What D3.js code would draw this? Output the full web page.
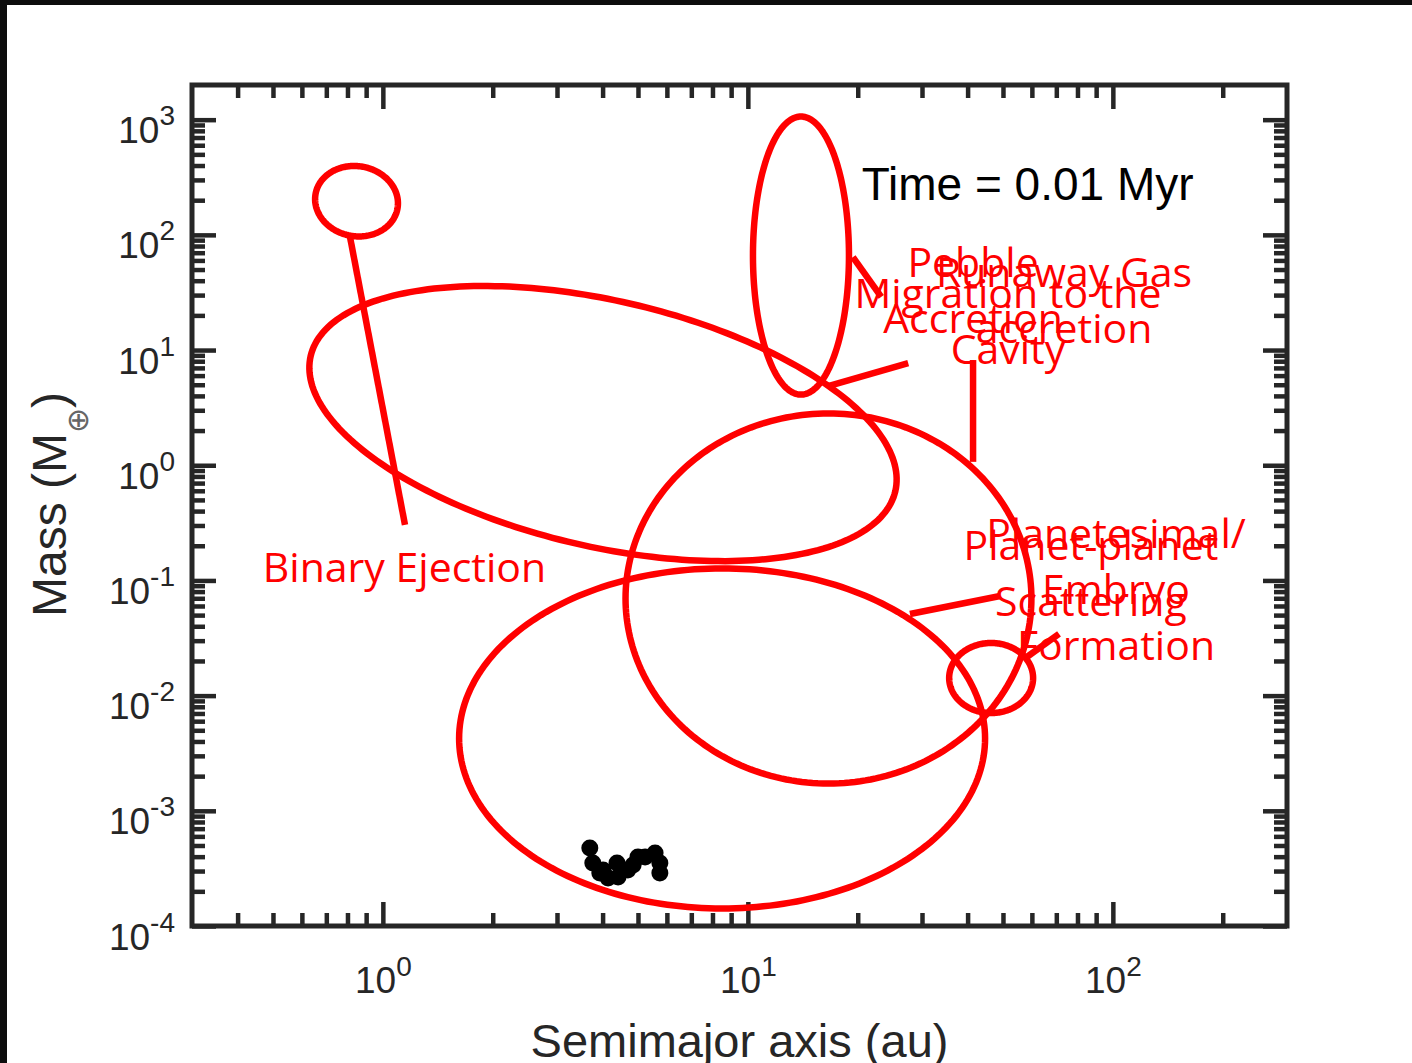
<!DOCTYPE html>
<html>
<head>
<meta charset="utf-8">
<script src="https://cdn.jsdelivr.net/npm/d3@7"></script>
<style>
  html, body { margin: 0; padding: 0; background: #fff; }
  svg { display: block; }
</style>
</head>
<body>
<div id="chart"></div>
<script>
// ---- data -------------------------------------------------------------
const xTickValues = [1, 10, 100];
const xTickExponents = ["0", "1", "2"];
const yTickValues = [1e-4, 1e-3, 1e-2, 1e-1, 1, 10, 100, 1000];
const yTickExponents = ["-4", "-3", "-2", "-1", "0", "1", "2", "3"];

// formation regions: centre (au, Earth masses), half extents in dex, tilt (deg)
const regionNames = ["binary", "embryoBelt", "pebble", "scatter", "planetesimal", "outer"];
const regionCenterA = [0.847, 4.01, 13.98, 16.63, 8.50, 46.4];
const regionCenterM = [196, 2.30, 66.1, 0.0697, 4.25e-3, 0.01422];
const regionHalfA = [0.114, 0.822, 0.1315, 0.556, 0.7205, 0.115];
const regionHalfM = [0.304, 1.068, 1.207, 1.606, 1.476, 0.304];
const regionTilt = [10, 13, 0, 0, 0, 0];

// leader lines: from (a1, m1) to (a2, m2)
const leaderA1 = [0.813, 19.4, 16.6, 41.4, 27.8, 57.1];
const leaderM1 = [95.7, 64.1, 4.87, 8.19, 0.0511, 0.0208];
const leaderA2 = [1.15, 23.2, 27.5, 41.4, 49.1, 71.2];
const leaderM2 = [0.303, 28.9, 7.71, 1.07, 0.0733, 0.0343];

// labels: lines, anchor (au, Earth masses) of first baseline, centred
const labelLines = [
  ["Binary Ejection"],
  ["Pebble", "Accretion"],
  ["Runaway Gas", "accretion"],
  ["Migration to the", "Cavity"],
  ["Planetesimal/", "Embryo", "Formation"],
  ["Planet-planet", "Scattering"]
];
const labelA = [1.146, 41.4, 73.5, 51.6, 102, 87.1];
const labelM = [0.0968, 43.0, 35.2, 23.2, 0.191, 0.150];

// simulated bodies at this snapshot
const bodyA = [3.69, 3.76, 3.93, 4.14, 4.41, 4.69, 5.00, 5.23, 5.57, 5.74, 5.74, 4.85, 4.38, 4.01];
const bodyM = [4.75e-4, 3.52e-4, 2.88e-4, 2.61e-4, 2.66e-4, 3.06e-4, 3.97e-4, 3.97e-4, 4.31e-4, 3.52e-4, 2.88e-4, 3.38e-4, 3.52e-4, 3.06e-4];

const timeLabel = "Time = 0.01 Myr";
const timeA = 20.5, timeM = 200;

// ---- layout -----------------------------------------------------------
const W = 1412, H = 1063;
const plotLeft = 192, plotRight = 1287, plotTop = 85, plotBottom = 926;
const axisColor = "#262626";
const red = "#ff0000";

const svg = d3.select("#chart").append("svg")
  .attr("width", W).attr("height", H);

// frame strips along the top and left
svg.append("rect").attr("x", 0).attr("y", 0).attr("width", W).attr("height", 5).attr("fill", "#0d0d0d");
svg.append("rect").attr("x", 0).attr("y", 0).attr("width", 7).attr("height", H).attr("fill", "#0d0d0d");

const x = d3.scaleLog().domain([0.3, 300]).range([plotLeft, plotRight]);
const y = d3.scaleLog().domain([1e-4, 2000]).range([plotBottom, plotTop]);

// minor tick values
const xMinor = [];
for (let d = -1; d <= 2; d++) for (let m = 2; m <= 9; m++) {
  const v = m * Math.pow(10, d);
  if (v > 0.3 + 1e-9 && v < 300 - 1e-9) xMinor.push(v);
}
const yMinor = [];
for (let d = -4; d <= 3; d++) for (let m = 2; m <= 9; m++) {
  const v = m * Math.pow(10, d);
  if (v < 2000 - 1e-9) yMinor.push(v);
}

const majorLen = 24, minorLen = 13;

function styleAxis(g) {
  g.select(".domain").remove();
  g.selectAll(".tick line").attr("stroke", axisColor).attr("stroke-width", 4.5);
}

// minor ticks on all four sides
svg.append("g").attr("transform", `translate(0,${plotBottom})`)
  .call(d3.axisBottom(x).tickValues(xMinor).tickSizeInner(-minorLen).tickSizeOuter(0).tickFormat(""))
  .call(styleAxis);
svg.append("g").attr("transform", `translate(0,${plotTop})`)
  .call(d3.axisTop(x).tickValues(xMinor).tickSizeInner(-minorLen).tickSizeOuter(0).tickFormat(""))
  .call(styleAxis);
svg.append("g").attr("transform", `translate(${plotLeft},0)`)
  .call(d3.axisLeft(y).tickValues(yMinor).tickSizeInner(-minorLen).tickSizeOuter(0).tickFormat(""))
  .call(styleAxis);
svg.append("g").attr("transform", `translate(${plotRight},0)`)
  .call(d3.axisRight(y).tickValues(yMinor).tickSizeInner(-minorLen).tickSizeOuter(0).tickFormat(""))
  .call(styleAxis);

// major ticks
const xb = svg.append("g").attr("transform", `translate(0,${plotBottom})`)
  .call(d3.axisBottom(x).tickValues(xTickValues).tickSizeInner(-majorLen).tickSizeOuter(0).tickFormat(""))
  .call(styleAxis);
svg.append("g").attr("transform", `translate(0,${plotTop})`)
  .call(d3.axisTop(x).tickValues(xTickValues).tickSizeInner(-majorLen).tickSizeOuter(0).tickFormat(""))
  .call(styleAxis);
const yl = svg.append("g").attr("transform", `translate(${plotLeft},0)`)
  .call(d3.axisLeft(y).tickValues(yTickValues).tickSizeInner(-majorLen).tickSizeOuter(0).tickFormat(""))
  .call(styleAxis);
svg.append("g").attr("transform", `translate(${plotRight},0)`)
  .call(d3.axisRight(y).tickValues(yTickValues).tickSizeInner(-majorLen).tickSizeOuter(0).tickFormat(""))
  .call(styleAxis);

const tickFont = "'Liberation Sans', Arial, Helvetica, sans-serif";

// power-of-ten tick labels
xb.selectAll(".tick").each(function(d, i) {
  const t = d3.select(this).append("text")
    .attr("y", 67).attr("x", 0)
    .attr("text-anchor", "middle")
    .attr("font-family", tickFont).attr("fill", axisColor);
  t.append("tspan").attr("font-size", 37).text("10");
  t.append("tspan").attr("font-size", 28).attr("dy", -17).text(xTickExponents[i]);
});
yl.selectAll(".tick").each(function(d, i) {
  const t = d3.select(this).append("text")
    .attr("x", -17).attr("y", 23)
    .attr("text-anchor", "end")
    .attr("font-family", tickFont).attr("fill", axisColor);
  t.append("tspan").attr("font-size", 37).text("10");
  t.append("tspan").attr("font-size", 28).attr("dy", -18).text(yTickExponents[i]);
});

// axes box
svg.append("rect")
  .attr("x", plotLeft).attr("y", plotTop)
  .attr("width", plotRight - plotLeft).attr("height", plotBottom - plotTop)
  .attr("fill", "none").attr("stroke", axisColor).attr("stroke-width", 5);

// axis titles
svg.append("text")
  .attr("x", (plotLeft + plotRight) / 2).attr("y", 1057)
  .attr("text-anchor", "middle")
  .attr("font-family", tickFont).attr("font-size", 47).attr("fill", axisColor)
  .text("Semimajor axis (au)");

const yt = svg.append("text")
  .attr("transform", "translate(66,617) rotate(-90)")
  .attr("font-family", tickFont).attr("font-size", 48).attr("fill", axisColor);
yt.append("tspan").text("Mass (M");
yt.append("tspan").attr("font-family", "'DejaVu Sans', sans-serif")
  .attr("font-size", 30).attr("dy", 22).attr("fill", "#666").text("\u2295");
yt.append("tspan").attr("dy", -22).text(")");

// ---- regions ----------------------------------------------------------
const plot = svg.append("g");

function ellipsePoints(i) {
  const cx = x(regionCenterA[i]), cy = y(regionCenterM[i]);
  const rx = x(regionCenterA[i] * Math.pow(10, regionHalfA[i])) - cx;
  const ry = cy - y(regionCenterM[i] * Math.pow(10, regionHalfM[i]));
  const th = regionTilt[i] * Math.PI / 180;
  const pts = [];
  for (let k = 0; k < 240; k++) {
    const t = 2 * Math.PI * k / 240;
    const ex = rx * Math.cos(t), ey = ry * Math.sin(t);
    pts.push([cx + ex * Math.cos(th) - ey * Math.sin(th), cy + ex * Math.sin(th) + ey * Math.cos(th)]);
  }
  return pts;
}

const closedLine = d3.line().curve(d3.curveLinearClosed);
plot.selectAll("path.region")
  .data(regionNames)
  .join("path")
  .attr("class", "region")
  .attr("d", (d, i) => closedLine(ellipsePoints(i)))
  .attr("fill", "none").attr("stroke", red).attr("stroke-width", 6.5);

plot.selectAll("line.leader")
  .data(leaderA1)
  .join("line")
  .attr("class", "leader")
  .attr("x1", (d, i) => x(leaderA1[i])).attr("y1", (d, i) => y(leaderM1[i]))
  .attr("x2", (d, i) => x(leaderA2[i])).attr("y2", (d, i) => y(leaderM2[i]))
  .attr("stroke", red).attr("stroke-width", 6.5);

// simulated bodies
plot.selectAll("circle.body")
  .data(bodyA)
  .join("circle")
  .attr("class", "body")
  .attr("cx", (d, i) => x(bodyA[i])).attr("cy", (d, i) => y(bodyM[i]))
  .attr("r", 8.5).attr("fill", "#000");

// region labels
const labelFont = "'Open Sans', 'Noto Sans', sans-serif";
labelLines.forEach((lines, i) => {
  const t = plot.append("text")
    .attr("text-anchor", "middle")
    .attr("font-family", labelFont).attr("font-size", 41).attr("fill", red);
  lines.forEach((s, j) => {
    t.append("tspan")
      .attr("x", x(labelA[i]))
      .attr("y", y(labelM[i]) + j * 56)
      .text(s);
  });
});

// snapshot time
plot.append("text")
  .attr("x", x(timeA)).attr("y", y(timeM))
  .attr("font-family", tickFont).attr("font-size", 46).attr("fill", "#000")
  .text(timeLabel);
</script>
</body>
</html>
